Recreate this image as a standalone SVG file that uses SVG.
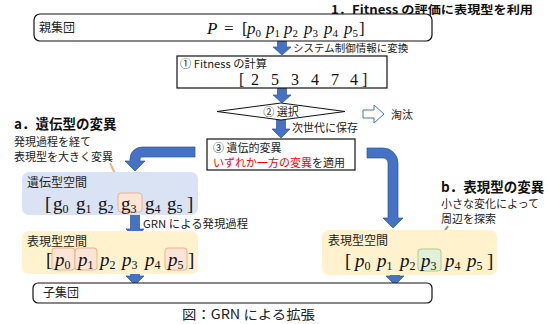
<svg xmlns="http://www.w3.org/2000/svg" width="550" height="324" viewBox="0 0 550 324">
<style>
.jp{font-family:"Noto Sans CJK JP","Noto Sans",sans-serif;font-size:11px;fill:#222}
.jb{font-family:"Noto Sans CJK JP","Noto Sans",sans-serif;font-size:13.5px;font-weight:bold;fill:#111}
.m{font-family:"Liberation Serif",serif;font-size:19px;fill:#111}
.mi{font-family:"Liberation Serif",serif;font-size:19px;font-style:italic;fill:#111}
.s{font-size:12px;font-style:normal}
.box{fill:#fff;stroke:#111;stroke-width:1.2}
.blue{fill:#4472C4;stroke:#2F5597;stroke-width:0.7}
.hp{fill:#FBE5D6;stroke:#F4B183;stroke-width:1}
.hg{fill:#E2F0D9;stroke:#A9D18E;stroke-width:1}
</style>

<!-- connectors -->
<g id="connectors">
  <path class="blue" d="M277.5,41 V47 H273 L282,55 L291,47 H286.5 V41 Z"/>
  <path class="blue" d="M277.5,88 V95 H273 L282,103 L291,95 H286.5 V88 Z"/>
  <path class="blue" d="M276.5,119 V129 H272 L281,138 L290,129 H285.5 V119 Z"/>
  <path d="M363,110 H374 V105 L384,114 L374,123 V118 H363 Z" fill="#fff" stroke="#4472C4" stroke-width="1"/>
  <path class="blue" d="M195,147 H142 A12,12 0 0 0 130,159 V161 H125 L135,171 L145,161 H140 V159 A2,2 0 0 1 142,157 H195 Z"/>
  <path class="blue" d="M367,148 H383 A15,15 0 0 1 398,163 V218 H403 L393,228 L383,218 H388 V163 A5,5 0 0 0 383,158 H367 Z"/>
  <path class="blue" d="M130.5,214 V229 H126 L135,239 L144,229 H139.5 V214 Z"/>
  <path class="blue" d="M130.5,267 V276 H126 L135,285 L144,276 H139.5 V267 Z"/>
  <path class="blue" d="M390.5,267 V276 H386 L395,285 L404,276 H399.5 V267 Z"/>
  <line x1="110" y1="163" x2="124" y2="193" stroke="#F4B183" stroke-width="2"/>
  <line x1="448" y1="226" x2="432" y2="250" stroke="#70AD47" stroke-width="2"/>
</g>

<text class="jb" x="331" y="13.5" style="font-size:11.6px" textLength="202" lengthAdjust="spacingAndGlyphs">1．Fitness の評価に表現型を利用</text>

<g id="parent">
  <rect class="box" x="34" y="14" width="398" height="27" rx="6"/>
  <text class="jp" x="39" y="32" style="font-size:12px">親集団</text>
  <text class="mi" x="207" y="34" style="font-size:17px">P</text>
  <text class="m" x="224" y="34" style="font-size:17px">=</text>
  <text class="m" x="242" y="34" style="font-size:17px">[</text>
  <text class="mi" y="34" style="font-size:17px"><tspan x="247">p</tspan><tspan class="s" dy="3" style="font-size:11px">0</tspan></text>
  <text class="mi" y="34" style="font-size:17px"><tspan x="266">p</tspan><tspan class="s" dy="3" style="font-size:11px">1</tspan></text>
  <text class="mi" y="34" style="font-size:17px"><tspan x="284">p</tspan><tspan class="s" dy="3" style="font-size:11px">2</tspan></text>
  <text class="mi" y="34" style="font-size:17px"><tspan x="304">p</tspan><tspan class="s" dy="3" style="font-size:11px">3</tspan></text>
  <text class="mi" y="34" style="font-size:17px"><tspan x="324">p</tspan><tspan class="s" dy="3" style="font-size:11px">4</tspan></text>
  <text class="mi" y="34" style="font-size:17px"><tspan x="344">p</tspan><tspan class="s" dy="3" style="font-size:11px">5</tspan></text>
  <text class="m" x="359" y="34" style="font-size:17px">]</text>
</g>
<text class="jp" x="293" y="52" style="font-size:10.5px">システム制御情報に変換</text>

<g id="fitness">
  <rect class="box" x="177" y="56" width="210" height="32"/>
  <text class="jp" x="180" y="68" textLength="87" lengthAdjust="spacingAndGlyphs">① Fitness の計算</text>
  <text class="m" y="85" style="font-size:16px"><tspan x="239">[</tspan><tspan x="251">2</tspan><tspan x="271">5</tspan><tspan x="291">3</tspan><tspan x="311">4</tspan><tspan x="331">7</tspan><tspan x="350">4</tspan><tspan x="362">]</tspan></text>
</g>

<g id="select">
  <polygon points="217,111.5 281,103 345,111.5 281,120" fill="#fff" stroke="#111" stroke-width="1"/>
  <text class="jp" x="281" y="115.5" text-anchor="middle">② 選択</text>
</g>
<text class="jp" x="391" y="119">淘汰</text>
<text class="jp" x="292" y="132">次世代に保存</text>

<g id="mutation">
  <rect class="box" x="207" y="139" width="148" height="31"/>
  <text class="jp" x="213" y="152">③ 遺伝的変異</text>
  <text class="jp" x="213" y="166.5"><tspan fill="#FF0000">いずれか一方の変異</tspan>を適用</text>
</g>

<g id="note-a">
  <text class="jb" x="14" y="129">a．遺伝型の変異</text>
  <text class="jp" x="14" y="145.5">発現過程を経て</text>
  <text class="jp" x="14" y="160.5">表現型を大きく変異</text>
</g>

<g id="genotype">
  <rect x="22" y="172" width="176" height="43" rx="7" fill="#DAE3F3"/>
  <rect class="hp" x="118" y="193" width="24" height="19" rx="3"/>
  <text class="jp" x="27" y="187" style="font-size:12px">遺伝型空間</text>
  <text class="m" x="45" y="210">[</text>
  <text class="m" y="210"><tspan x="53">g</tspan><tspan dy="3" style="font-size:12px">0</tspan></text>
  <text class="m" y="210"><tspan x="76">g</tspan><tspan dy="3" style="font-size:12px">1</tspan></text>
  <text class="m" y="210"><tspan x="98">g</tspan><tspan dy="3" style="font-size:12px">2</tspan></text>
  <text class="m" y="210"><tspan x="121">g</tspan><tspan dy="3" style="font-size:12px">3</tspan></text>
  <text class="m" y="210"><tspan x="145">g</tspan><tspan dy="3" style="font-size:12px">4</tspan></text>
  <text class="m" y="210"><tspan x="167">g</tspan><tspan dy="3" style="font-size:12px">5</tspan></text>
  <text class="m" x="187" y="210">]</text>
</g>
<text class="jp" x="143" y="228" textLength="105" lengthAdjust="spacingAndGlyphs">GRN による発現過程</text>

<g id="phenotype-left">
  <rect x="22" y="231" width="176" height="43" rx="7" fill="#FFF2CC"/>
  <rect class="hp" x="52" y="248" width="23" height="22" rx="3"/>
  <rect class="hp" x="75" y="248" width="22" height="22" rx="3"/>
  <rect class="hp" x="165" y="248" width="22" height="22" rx="3"/>
  <text class="jp" x="27" y="246" style="font-size:12px">表現型空間</text>
  <text class="m" x="46" y="266">[</text>
  <text class="mi" y="266"><tspan x="55">p</tspan><tspan class="s" dy="3">0</tspan></text>
  <text class="mi" y="266"><tspan x="78">p</tspan><tspan class="s" dy="3">1</tspan></text>
  <text class="mi" y="266"><tspan x="100">p</tspan><tspan class="s" dy="3">2</tspan></text>
  <text class="mi" y="266"><tspan x="122">p</tspan><tspan class="s" dy="3">3</tspan></text>
  <text class="mi" y="266"><tspan x="145">p</tspan><tspan class="s" dy="3">4</tspan></text>
  <text class="mi" y="266"><tspan x="168">p</tspan><tspan class="s" dy="3">5</tspan></text>
  <text class="m" x="188" y="266">]</text>
</g>

<g id="note-b">
  <text class="jb" x="441" y="192">b．表現型の変異</text>
  <text class="jp" x="441" y="207.5">小さな変化によって</text>
  <text class="jp" x="441" y="222.5">周辺を探索</text>
</g>

<g id="phenotype-right">
  <rect x="322" y="230" width="175" height="45" rx="7" fill="#FFF2CC"/>
  <rect class="hg" x="418" y="249" width="23" height="22" rx="3"/>
  <text class="jp" x="328" y="245" style="font-size:12px">表現型空間</text>
  <text class="m" x="345" y="267">[</text>
  <text class="mi" y="267"><tspan x="355">p</tspan><tspan class="s" dy="3">0</tspan></text>
  <text class="mi" y="267"><tspan x="377">p</tspan><tspan class="s" dy="3">1</tspan></text>
  <text class="mi" y="267"><tspan x="400">p</tspan><tspan class="s" dy="3">2</tspan></text>
  <text class="mi" y="267"><tspan x="421">p</tspan><tspan class="s" dy="3">3</tspan></text>
  <text class="mi" y="267"><tspan x="445">p</tspan><tspan class="s" dy="3">4</tspan></text>
  <text class="mi" y="267"><tspan x="467">p</tspan><tspan class="s" dy="3">5</tspan></text>
  <text class="m" x="487" y="267">]</text>
</g>

<g id="child">
  <rect class="box" x="33" y="283" width="399" height="20" rx="5"/>
  <text class="jp" x="43" y="297" style="font-size:12px">子集団</text>
</g>

<text class="jp" x="182" y="319" style="font-size:13px" textLength="133" lengthAdjust="spacingAndGlyphs">図：GRN による拡張</text>
</svg>
